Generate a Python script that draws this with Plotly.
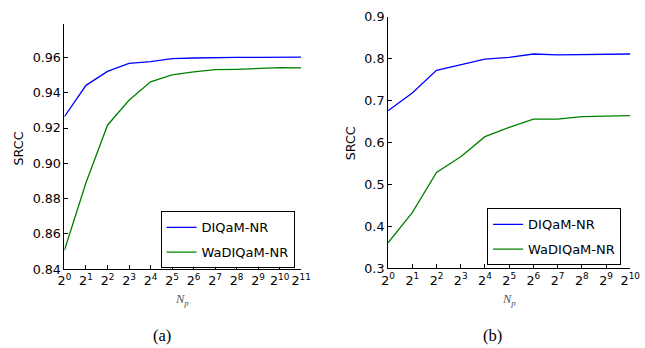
import plotly.graph_objects as go

# ---- data ----
np_a = [1, 2, 4, 8, 16, 32, 64, 128, 256, 512, 1024, 2048]
tick_a = ["2<sup>0</sup>", "2<sup>1</sup>", "2<sup>2</sup>", "2<sup>3</sup>", "2<sup>4</sup>", "2<sup>5</sup>",
          "2<sup>6</sup>", "2<sup>7</sup>", "2<sup>8</sup>", "2<sup>9</sup>", "2<sup>10</sup>", "2<sup>11</sup>"]
diqam_a = [0.9264, 0.9442, 0.9521, 0.9566, 0.9576, 0.9593, 0.9597, 0.9600, 0.9600, 0.9601, 0.9602, 0.9602]
wadiqam_a = [0.8507, 0.8890, 0.9216, 0.9357, 0.9462, 0.9501, 0.9518, 0.9531, 0.9533, 0.9538, 0.9542, 0.9541]

np_b = [1, 2, 4, 8, 16, 32, 64, 128, 256, 512, 1024]
tick_b = tick_a[:11]
diqam_b = [0.676, 0.718, 0.772, 0.786, 0.799, 0.803, 0.811, 0.809, 0.810, 0.811, 0.811]
wadiqam_b = [0.361, 0.433, 0.529, 0.566, 0.614, 0.636, 0.656, 0.656, 0.662, 0.663, 0.664]

yticks_a = [0.84, 0.86, 0.88, 0.90, 0.92, 0.94, 0.96]
ytext_a = ["0.84", "0.86", "0.88", "0.90", "0.92", "0.94", "0.96"]
yticks_b = [0.3, 0.4, 0.5, 0.6, 0.7, 0.8, 0.9]
ytext_b = ["0.3", "0.4", "0.5", "0.6", "0.7", "0.8", "0.9"]

BLUE = "#0000ff"
GREEN = "#008000"
W, H = 645, 348

# layout helpers: convert target picture pixels to paper fractions
def X(px):
    return (px - 3) / 0.983 / W


def Y(py):
    return 1 - (py - 7) / 0.96 / H


fig = go.Figure()
fig.add_trace(go.Scatter(x=np_a, y=diqam_a, mode="lines", name="DIQaM-NR", line=dict(color=BLUE, width=1.3),
                         xaxis="x", yaxis="y", legend="legend", legendgroup="a1"))
fig.add_trace(go.Scatter(x=np_a, y=wadiqam_a, mode="lines", name="WaDIQaM-NR", line=dict(color=GREEN, width=1.3),
                         xaxis="x", yaxis="y", legend="legend", legendgroup="a2"))
fig.add_trace(go.Scatter(x=np_b, y=diqam_b, mode="lines", name="DIQaM-NR", line=dict(color=BLUE, width=1.3),
                         xaxis="x2", yaxis="y2", legend="legend2", legendgroup="b1"))
fig.add_trace(go.Scatter(x=np_b, y=wadiqam_b, mode="lines", name="WaDIQaM-NR", line=dict(color=GREEN, width=1.3),
                         xaxis="x2", yaxis="y2", legend="legend2", legendgroup="b2"))

tickfont = dict(family="DejaVu Sans", size=12.7, color="black")
axis_common = dict(showgrid=False, zeroline=False, showline=True, linecolor="black", linewidth=1,
                   ticks="inside", ticklen=4, tickcolor="black", tickfont=tickfont, mirror=False,
                   tickangle=0)

legend_common = dict(xanchor="left", yanchor="top", bordercolor="black", borderwidth=1, bgcolor="white",
                     font=dict(family="DejaVu Sans", size=13, color="black"), itemwidth=30,
                     tracegroupgap=5, traceorder="grouped")


def label(text, x, y, family, size, color="black", angle=0):
    return dict(text=text, x=X(x), y=Y(y), xref="paper", yref="paper", textangle=angle,
                showarrow=False, xanchor="center", yanchor="middle",
                font=dict(family=family, size=size, color=color))


fig.update_layout(
    width=W, height=H, margin=dict(l=0, r=0, t=0, b=0),
    paper_bgcolor="white", plot_bgcolor="white", showlegend=True,
    xaxis=dict(type="log", domain=[X(61), X(300)], range=[0, 3.3113], tickvals=np_a, ticktext=tick_a,
               anchor="y", **axis_common),
    yaxis=dict(domain=[Y(269), Y(23)], range=[0.84, 0.979], tickvals=yticks_a, ticktext=ytext_a,
               anchor="x", **axis_common),
    xaxis2=dict(type="log", domain=[X(387.7), X(632.3)], range=[0, 3.0103], tickvals=np_b, ticktext=tick_b,
                anchor="y2", **axis_common),
    yaxis2=dict(domain=[Y(268.3), Y(15.7)], range=[0.3, 0.9], tickvals=yticks_b, ticktext=ytext_b,
                anchor="x2", **axis_common),
    legend=dict(x=X(158), y=Y(211), **legend_common),
    legend2=dict(x=X(487.7), y=Y(208), **legend_common),
    annotations=[
        label("SRCC", 15, 148, "DejaVu Sans", 12.7, angle=-90),
        label("SRCC", 350, 143, "DejaVu Sans", 12.7, angle=-90),
        label("<i>N<sub>p</sub></i>", 180, 300, "Liberation Serif", 12.5, "#555555"),
        label("<i>N<sub>p</sub></i>", 510, 300, "Liberation Serif", 12.5, "#555555"),
        label("(a)", 159, 336, "Liberation Serif", 16.5),
        label("(b)", 493, 336, "Liberation Serif", 16.5),
    ],
)

fig.write_html("out.html", config={"displayModeBar": False},
               post_script="document.body.style.margin='0';document.body.style.overflow='hidden';")
